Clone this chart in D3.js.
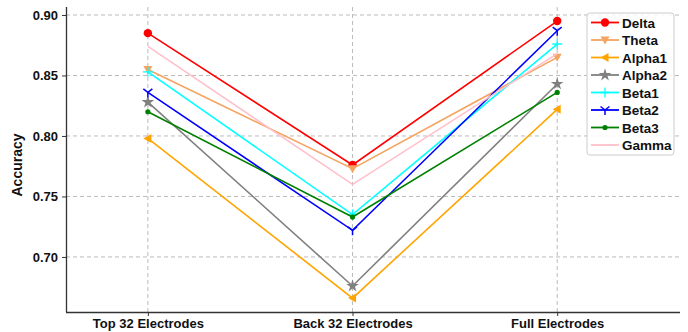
<!DOCTYPE html>
<meta charset="utf-8">
<script src="https://d3js.org/d3.v7.min.js"></script>
<style>
  body { margin: 0; background: #fff; }
  text { font-family: "Liberation Sans", Arial, sans-serif; font-weight: bold; }
</style>
<div id="chart"></div>
<script>
var width = 688, height = 332

// categories and series
var categories = ["Top 32 Electrodes", "Back 32 Electrodes", "Full Electrodes"]
var bands = ["Delta", "Theta", "Alpha1", "Alpha2", "Beta1", "Beta2", "Beta3", "Gamma"]
var delta  = [0.885, 0.776, 0.895]
var theta  = [0.855, 0.773, 0.865]
var alpha1 = [0.798, 0.666, 0.822]
var alpha2 = [0.828, 0.676, 0.843]
var beta1  = [0.853, 0.735, 0.876]
var beta2  = [0.836, 0.722, 0.887]
var beta3  = [0.820, 0.733, 0.836]
var gamma  = [0.874, 0.760, 0.868]
var yTicks = [0.70, 0.75, 0.80, 0.85, 0.90]

var colors  = ["#ff0000", "#f4a460", "#ffa500", "#808080", "#00ffff", "#0000ff", "#008000", "#ffc0cb"]
var markers = ["circle", "tridown", "trileft", "star", "plus", "y", "dot", "none"]
var series = [delta, theta, alpha1, alpha2, beta1, beta2, beta3, gamma]

var margin = {left: 66, right: 8, top: 7, bottom: 20}

var svg = d3.select("#chart").append("svg")
  .attr("width", width)
  .attr("height", height)

var x = d3.scaleLinear().domain([-0.4, 2.6]).range([margin.left, width - margin.right])
var y = d3.scaleLinear().domain([0.6545, 0.9066]).range([height - margin.bottom, margin.top])

// grid
svg.append("g").selectAll("line").data(yTicks).enter().append("line")
  .attr("x1", margin.left).attr("x2", width - margin.right)
  .attr("y1", function(d) { return y(d) }).attr("y2", function(d) { return y(d) })
  .style("stroke", "#bbb").style("stroke-dasharray", "4,3").style("stroke-width", 1)
svg.append("g").selectAll("line").data(categories).enter().append("line")
  .attr("x1", function(d, i) { return x(i) }).attr("x2", function(d, i) { return x(i) })
  .attr("y1", margin.top).attr("y2", height - margin.bottom)
  .style("stroke", "#bbb").style("stroke-dasharray", "4,3").style("stroke-width", 1)

// axes
var yAxis = svg.append("g")
  .attr("transform", "translate(" + margin.left + ",0)")
  .call(d3.axisLeft(y).tickValues(yTicks).tickFormat(d3.format(".2f")).tickSize(4).tickPadding(4))
var xAxis = svg.append("g")
  .attr("transform", "translate(0," + (height - margin.bottom) + ")")
  .call(d3.axisBottom(x).tickValues([0, 1, 2]).tickFormat(function(d) { return categories[d] }).tickSize(4).tickPadding(3))
yAxis.select(".domain").style("stroke", "#333").style("stroke-width", 1.3)
  .attr("d", "M0.5," + margin.top + "V" + (height - margin.bottom))
xAxis.select(".domain").style("stroke", "#333").style("stroke-width", 1.3)
  .attr("d", "M" + margin.left + ",0.5H" + (width - margin.right))
svg.selectAll(".tick text").style("font-size", "13px").style("fill", "#111")
  .style("font-family", "'Liberation Sans', Arial, sans-serif").style("font-weight", "bold")
svg.selectAll(".tick line").style("stroke", "#333")

svg.append("text")
  .attr("transform", "translate(22," + 165 + ") rotate(-90)")
  .attr("text-anchor", "middle")
  .style("font-size", "14px").style("fill", "#111")
  .text("Accuracy")

// marker drawing
function drawMarker(g, type, color) {
  if (type == "circle") {
    g.append("circle").attr("r", 4.2).style("fill", color)
  } else if (type == "tridown") {
    g.append("path").attr("d", "M-4.5,-3.5L4.5,-3.5L0,4.5Z").style("fill", color)
  } else if (type == "trileft") {
    g.append("path").attr("d", "M-4.5,0L3.5,-4.5L3.5,4.5Z").style("fill", color)
  } else if (type == "star") {
    g.append("path").attr("d", d3.symbol().type(d3.symbolStar).size(50)()).style("fill", color)
  } else if (type == "plus") {
    g.append("path").attr("d", "M-5,0H5M0,-5V5").style("stroke", color).style("stroke-width", 1.3)
  } else if (type == "y") {
    g.append("path").attr("d", "M0,0V5M0,0L-4.5,-3.5M0,0L4.5,-3.5").style("stroke", color).style("stroke-width", 1.5).style("fill", "none")
  } else if (type == "dot") {
    g.append("circle").attr("r", 2.6).style("fill", color)
  }
}

var line = d3.line()
  .x(function(d, i) { return x(i) })
  .y(function(d) { return y(d) })

series.forEach(function(vals, k) {
  var g = svg.append("g").attr("class", "series")
  g.append("path")
    .datum(vals)
    .attr("d", line)
    .style("fill", "none")
    .style("stroke", colors[k])
    .style("stroke-width", 1.6)
  vals.forEach(function(v, i) {
    var m = g.append("g").attr("transform", "translate(" + x(i) + "," + y(v) + ")")
    drawMarker(m, markers[k], colors[k])
  })
})

// legend
var legend = svg.append("g").attr("transform", "translate(587,13)")
legend.append("rect")
  .attr("width", 87).attr("height", 142).attr("rx", 3)
  .style("fill", "#fff").style("fill-opacity", 0.85)
  .style("stroke", "#ccc")
bands.forEach(function(name, k) {
  var row = legend.append("g").attr("transform", "translate(0," + (9.5 + k * 17.5) + ")")
  row.append("line").attr("x1", 4).attr("x2", 32)
    .style("stroke", colors[k]).style("stroke-width", 1.8)
  var m = row.append("g").attr("transform", "translate(18,0)")
  drawMarker(m, markers[k], colors[k])
  row.append("text").attr("x", 35).attr("y", 5)
    .style("font-size", "13.5px").style("fill", "#111")
    .text(name)
})
</script>
